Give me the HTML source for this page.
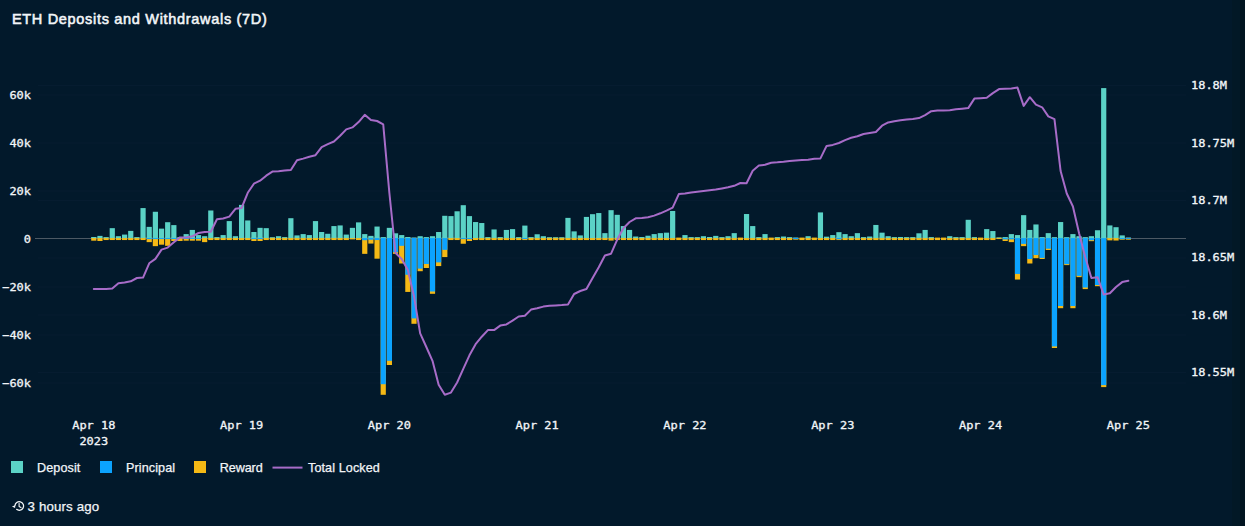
<!DOCTYPE html>
<html><head><meta charset="utf-8"><title>ETH Deposits and Withdrawals (7D)</title>
<style>
html,body{margin:0;padding:0;background:#02192b;}
.eb{position:absolute;top:0;height:526px}
body{width:1245px;height:526px;position:relative;overflow:hidden;font-family:"Liberation Sans",sans-serif;color:#f2f5f8;}
.title{position:absolute;left:11.9px;top:8.8px;font-size:14.5px;font-weight:normal;-webkit-text-stroke:0.55px #f2f5f8;letter-spacing:0.69px;line-height:20px;white-space:nowrap;}
.lg{position:absolute;top:460px;height:16px;line-height:16px;font-size:12.6px;letter-spacing:0.1px;white-space:nowrap;-webkit-text-stroke:0.25px #f2f5f8}
.sw{position:absolute;top:461.2px;width:12px;height:12px}
.foot{position:absolute;left:27.6px;top:498.6px;font-size:13.3px;letter-spacing:0.13px;line-height:16px;white-space:nowrap;-webkit-text-stroke:0.25px #f2f5f8}
</style></head><body>
<div class="eb" style="left:1232px;width:8px;background:#021826"></div><div class="eb" style="left:1240px;width:5px;background:#011420"></div>
<svg width="1245" height="526" viewBox="0 0 1245 526" style="position:absolute;left:0;top:0">
<g><line x1="38" x2="1186" y1="95" y2="95" stroke="#061c30" stroke-width="1"/>
<line x1="38" x2="1186" y1="143" y2="143" stroke="#061c30" stroke-width="1"/>
<line x1="38" x2="1186" y1="191" y2="191" stroke="#061c30" stroke-width="1"/>
<line x1="38" x2="1186" y1="287" y2="287" stroke="#061c30" stroke-width="1"/>
<line x1="38" x2="1186" y1="335" y2="335" stroke="#061c30" stroke-width="1"/>
<line x1="38" x2="1186" y1="383" y2="383" stroke="#061c30" stroke-width="1"/>
<line x1="38" x2="1186" y1="85.5" y2="85.5" stroke="#061c30" stroke-width="1"/>
<line x1="38" x2="1186" y1="200.5" y2="200.5" stroke="#061c30" stroke-width="1"/>
<line x1="38" x2="1186" y1="258" y2="258" stroke="#061c30" stroke-width="1"/>
<line x1="38" x2="1186" y1="315" y2="315" stroke="#061c30" stroke-width="1"/>
<line x1="38" x2="1186" y1="372.5" y2="372.5" stroke="#061c30" stroke-width="1"/></g>
<line x1="35" x2="1186" y1="238.5" y2="238.5" stroke="#4d5964" stroke-width="1"/>
<g shape-rendering="auto"><rect x="91.2" y="237.6" width="5.2" height="3.09" fill="#f5b915"/>
<rect x="91.2" y="236.99" width="5.2" height="1.11" fill="#5bd2c6"/>
<rect x="97.36" y="237.6" width="5.2" height="3.41" fill="#f5b915"/>
<rect x="97.36" y="235.87" width="5.2" height="2.23" fill="#5bd2c6"/>
<rect x="103.52" y="237.6" width="5.2" height="2.45" fill="#f5b915"/>
<rect x="103.52" y="237.15" width="5.2" height="0.95" fill="#5bd2c6"/>
<rect x="109.67" y="237.6" width="5.2" height="2.45" fill="#f5b915"/>
<rect x="109.67" y="228.16" width="5.2" height="9.94" fill="#5bd2c6"/>
<rect x="115.83" y="237.6" width="5.2" height="2.45" fill="#f5b915"/>
<rect x="115.83" y="236.19" width="5.2" height="1.91" fill="#5bd2c6"/>
<rect x="121.99" y="237.6" width="5.2" height="2.45" fill="#f5b915"/>
<rect x="121.99" y="234.58" width="5.2" height="3.52" fill="#5bd2c6"/>
<rect x="128.15" y="237.6" width="5.2" height="2.45" fill="#f5b915"/>
<rect x="128.15" y="230.89" width="5.2" height="7.21" fill="#5bd2c6"/>
<rect x="134.31" y="237.6" width="5.2" height="2.45" fill="#f5b915"/>
<rect x="134.31" y="237.15" width="5.2" height="0.95" fill="#5bd2c6"/>
<rect x="140.46" y="237.6" width="5.2" height="2.45" fill="#f5b915"/>
<rect x="140.46" y="208.08" width="5.2" height="30.02" fill="#5bd2c6"/>
<rect x="146.62" y="237.6" width="5.2" height="4.53" fill="#f5b915"/>
<rect x="146.62" y="237.6" width="5.2" height="1.48" fill="#0ba3ff"/>
<rect x="146.62" y="226.87" width="5.2" height="11.23" fill="#5bd2c6"/>
<rect x="152.78" y="237.6" width="5.2" height="8.55" fill="#f5b915"/>
<rect x="152.78" y="237.6" width="5.2" height="1.48" fill="#0ba3ff"/>
<rect x="152.78" y="211.77" width="5.2" height="26.33" fill="#5bd2c6"/>
<rect x="158.94" y="237.6" width="5.2" height="7.1" fill="#f5b915"/>
<rect x="158.94" y="237.6" width="5.2" height="1.48" fill="#0ba3ff"/>
<rect x="158.94" y="228.64" width="5.2" height="9.46" fill="#5bd2c6"/>
<rect x="165.1" y="237.6" width="5.2" height="8.23" fill="#f5b915"/>
<rect x="165.1" y="237.6" width="5.2" height="1.48" fill="#0ba3ff"/>
<rect x="165.1" y="222.21" width="5.2" height="15.89" fill="#5bd2c6"/>
<rect x="171.25" y="237.6" width="5.2" height="3.41" fill="#f5b915"/>
<rect x="171.25" y="237.6" width="5.2" height="1.48" fill="#0ba3ff"/>
<rect x="171.25" y="225.11" width="5.2" height="12.99" fill="#5bd2c6"/>
<rect x="177.41" y="237.6" width="5.2" height="3.41" fill="#f5b915"/>
<rect x="177.41" y="236.99" width="5.2" height="1.11" fill="#5bd2c6"/>
<rect x="183.57" y="237.6" width="5.2" height="3.09" fill="#f5b915"/>
<rect x="183.57" y="237.6" width="5.2" height="1.32" fill="#0ba3ff"/>
<rect x="183.57" y="234.1" width="5.2" height="4" fill="#5bd2c6"/>
<rect x="189.73" y="237.6" width="5.2" height="3.09" fill="#f5b915"/>
<rect x="189.73" y="237.6" width="5.2" height="1.32" fill="#0ba3ff"/>
<rect x="189.73" y="229.93" width="5.2" height="8.17" fill="#5bd2c6"/>
<rect x="195.89" y="237.6" width="5.2" height="3.09" fill="#f5b915"/>
<rect x="195.89" y="237.6" width="5.2" height="1.32" fill="#0ba3ff"/>
<rect x="195.89" y="235.07" width="5.2" height="3.03" fill="#5bd2c6"/>
<rect x="202.04" y="237.6" width="5.2" height="4.53" fill="#f5b915"/>
<rect x="202.04" y="236.19" width="5.2" height="1.91" fill="#5bd2c6"/>
<rect x="208.2" y="237.6" width="5.2" height="2.45" fill="#f5b915"/>
<rect x="208.2" y="210.49" width="5.2" height="27.61" fill="#5bd2c6"/>
<rect x="214.36" y="237.6" width="5.2" height="2.45" fill="#f5b915"/>
<rect x="214.36" y="237.15" width="5.2" height="0.95" fill="#5bd2c6"/>
<rect x="220.52" y="237.6" width="5.2" height="2.45" fill="#f5b915"/>
<rect x="220.52" y="235.07" width="5.2" height="3.03" fill="#5bd2c6"/>
<rect x="226.68" y="237.6" width="5.2" height="2.45" fill="#f5b915"/>
<rect x="226.68" y="221.09" width="5.2" height="17.01" fill="#5bd2c6"/>
<rect x="232.83" y="237.6" width="5.2" height="2.45" fill="#f5b915"/>
<rect x="232.83" y="236.19" width="5.2" height="1.91" fill="#5bd2c6"/>
<rect x="238.99" y="237.6" width="5.2" height="2.45" fill="#f5b915"/>
<rect x="238.99" y="204.87" width="5.2" height="33.23" fill="#5bd2c6"/>
<rect x="245.15" y="237.6" width="5.2" height="2.45" fill="#f5b915"/>
<rect x="245.15" y="220.45" width="5.2" height="17.65" fill="#5bd2c6"/>
<rect x="251.31" y="237.6" width="5.2" height="3.41" fill="#f5b915"/>
<rect x="251.31" y="237.6" width="5.2" height="1.48" fill="#0ba3ff"/>
<rect x="251.31" y="232.01" width="5.2" height="6.09" fill="#5bd2c6"/>
<rect x="257.47" y="237.6" width="5.2" height="3.41" fill="#f5b915"/>
<rect x="257.47" y="237.6" width="5.2" height="1.48" fill="#0ba3ff"/>
<rect x="257.47" y="227.84" width="5.2" height="10.26" fill="#5bd2c6"/>
<rect x="263.62" y="237.6" width="5.2" height="2.45" fill="#f5b915"/>
<rect x="263.62" y="228.16" width="5.2" height="9.94" fill="#5bd2c6"/>
<rect x="269.78" y="237.6" width="5.2" height="2.45" fill="#f5b915"/>
<rect x="269.78" y="237.31" width="5.2" height="0.79" fill="#5bd2c6"/>
<rect x="275.94" y="237.6" width="5.2" height="2.45" fill="#f5b915"/>
<rect x="275.94" y="236.19" width="5.2" height="1.91" fill="#5bd2c6"/>
<rect x="282.1" y="237.6" width="5.2" height="2.45" fill="#f5b915"/>
<rect x="282.1" y="237.15" width="5.2" height="0.95" fill="#5bd2c6"/>
<rect x="288.26" y="237.6" width="5.2" height="2.45" fill="#f5b915"/>
<rect x="288.26" y="218.2" width="5.2" height="19.9" fill="#5bd2c6"/>
<rect x="294.41" y="237.6" width="5.2" height="2.45" fill="#f5b915"/>
<rect x="294.41" y="235.39" width="5.2" height="2.71" fill="#5bd2c6"/>
<rect x="300.57" y="237.6" width="5.2" height="2.45" fill="#f5b915"/>
<rect x="300.57" y="234.1" width="5.2" height="4" fill="#5bd2c6"/>
<rect x="306.73" y="237.6" width="5.2" height="2.45" fill="#f5b915"/>
<rect x="306.73" y="235.07" width="5.2" height="3.03" fill="#5bd2c6"/>
<rect x="312.89" y="237.6" width="5.2" height="2.45" fill="#f5b915"/>
<rect x="312.89" y="221.09" width="5.2" height="17.01" fill="#5bd2c6"/>
<rect x="319.05" y="237.6" width="5.2" height="2.45" fill="#f5b915"/>
<rect x="319.05" y="232.01" width="5.2" height="6.09" fill="#5bd2c6"/>
<rect x="325.2" y="237.6" width="5.2" height="2.45" fill="#f5b915"/>
<rect x="325.2" y="233.78" width="5.2" height="4.32" fill="#5bd2c6"/>
<rect x="331.36" y="237.6" width="5.2" height="2.45" fill="#f5b915"/>
<rect x="331.36" y="226.07" width="5.2" height="12.03" fill="#5bd2c6"/>
<rect x="337.52" y="237.6" width="5.2" height="2.45" fill="#f5b915"/>
<rect x="337.52" y="225.43" width="5.2" height="12.67" fill="#5bd2c6"/>
<rect x="343.68" y="237.6" width="5.2" height="2.45" fill="#f5b915"/>
<rect x="343.68" y="234.58" width="5.2" height="3.52" fill="#5bd2c6"/>
<rect x="349.84" y="237.6" width="5.2" height="1.8" fill="#f5b915"/>
<rect x="349.84" y="227.84" width="5.2" height="10.26" fill="#5bd2c6"/>
<rect x="355.99" y="237.6" width="5.2" height="2.45" fill="#f5b915"/>
<rect x="355.99" y="222.38" width="5.2" height="15.72" fill="#5bd2c6"/>
<rect x="362.15" y="237.6" width="5.2" height="16.26" fill="#f5b915"/>
<rect x="362.15" y="237.6" width="5.2" height="2.61" fill="#0ba3ff"/>
<rect x="362.15" y="234.1" width="5.2" height="4" fill="#5bd2c6"/>
<rect x="368.31" y="237.6" width="5.2" height="5.98" fill="#f5b915"/>
<rect x="368.31" y="237.6" width="5.2" height="2.12" fill="#0ba3ff"/>
<rect x="368.31" y="235.87" width="5.2" height="2.23" fill="#5bd2c6"/>
<rect x="374.47" y="237.6" width="5.2" height="21.08" fill="#f5b915"/>
<rect x="374.47" y="237.6" width="5.2" height="2.45" fill="#0ba3ff"/>
<rect x="374.47" y="226.55" width="5.2" height="11.55" fill="#5bd2c6"/>
<rect x="380.63" y="237.6" width="5.2" height="157.2" fill="#f5b915"/>
<rect x="380.63" y="237.6" width="5.2" height="146.6" fill="#0ba3ff"/>
<rect x="380.63" y="237.15" width="5.2" height="0.95" fill="#5bd2c6"/>
<rect x="386.78" y="237.6" width="5.2" height="127.4" fill="#f5b915"/>
<rect x="386.78" y="237.6" width="5.2" height="123.2" fill="#0ba3ff"/>
<rect x="386.78" y="227.84" width="5.2" height="10.26" fill="#5bd2c6"/>
<rect x="392.94" y="237.6" width="5.2" height="16.26" fill="#f5b915"/>
<rect x="392.94" y="237.6" width="5.2" height="14.65" fill="#0ba3ff"/>
<rect x="392.94" y="233.3" width="5.2" height="4.8" fill="#5bd2c6"/>
<rect x="399.1" y="237.6" width="5.2" height="25.9" fill="#f5b915"/>
<rect x="399.1" y="237.6" width="5.2" height="8.23" fill="#0ba3ff"/>
<rect x="399.1" y="235.07" width="5.2" height="3.03" fill="#5bd2c6"/>
<rect x="405.26" y="237.6" width="5.2" height="54.33" fill="#f5b915"/>
<rect x="405.26" y="237.6" width="5.2" height="37.14" fill="#0ba3ff"/>
<rect x="405.26" y="236.99" width="5.2" height="1.11" fill="#5bd2c6"/>
<rect x="411.42" y="237.6" width="5.2" height="86.2" fill="#f5b915"/>
<rect x="411.42" y="237.6" width="5.2" height="80.8" fill="#0ba3ff"/>
<rect x="417.57" y="237.6" width="5.2" height="33.61" fill="#f5b915"/>
<rect x="417.57" y="237.6" width="5.2" height="31.04" fill="#0ba3ff"/>
<rect x="417.57" y="236.19" width="5.2" height="1.91" fill="#5bd2c6"/>
<rect x="423.73" y="237.6" width="5.2" height="30.4" fill="#f5b915"/>
<rect x="423.73" y="237.6" width="5.2" height="26.38" fill="#0ba3ff"/>
<rect x="423.73" y="237.15" width="5.2" height="0.95" fill="#5bd2c6"/>
<rect x="429.89" y="237.6" width="5.2" height="56.2" fill="#f5b915"/>
<rect x="429.89" y="237.6" width="5.2" height="53.9" fill="#0ba3ff"/>
<rect x="429.89" y="236.19" width="5.2" height="1.91" fill="#5bd2c6"/>
<rect x="436.05" y="237.6" width="5.2" height="28.47" fill="#f5b915"/>
<rect x="436.05" y="237.6" width="5.2" height="24.78" fill="#0ba3ff"/>
<rect x="436.05" y="232.01" width="5.2" height="6.09" fill="#5bd2c6"/>
<rect x="442.21" y="237.6" width="5.2" height="19.47" fill="#f5b915"/>
<rect x="442.21" y="237.6" width="5.2" height="12.24" fill="#0ba3ff"/>
<rect x="442.21" y="215.79" width="5.2" height="22.31" fill="#5bd2c6"/>
<rect x="448.36" y="237.6" width="5.2" height="2.45" fill="#f5b915"/>
<rect x="448.36" y="216.11" width="5.2" height="21.99" fill="#5bd2c6"/>
<rect x="454.52" y="237.6" width="5.2" height="2.45" fill="#f5b915"/>
<rect x="454.52" y="211.29" width="5.2" height="26.81" fill="#5bd2c6"/>
<rect x="460.68" y="237.6" width="5.2" height="6.14" fill="#f5b915"/>
<rect x="460.68" y="237.6" width="5.2" height="1.48" fill="#0ba3ff"/>
<rect x="460.68" y="205.19" width="5.2" height="32.91" fill="#5bd2c6"/>
<rect x="466.84" y="237.6" width="5.2" height="3.41" fill="#f5b915"/>
<rect x="466.84" y="237.6" width="5.2" height="1.48" fill="#0ba3ff"/>
<rect x="466.84" y="216.11" width="5.2" height="21.99" fill="#5bd2c6"/>
<rect x="473" y="237.6" width="5.2" height="2.45" fill="#f5b915"/>
<rect x="473" y="222.05" width="5.2" height="16.05" fill="#5bd2c6"/>
<rect x="479.15" y="237.6" width="5.2" height="2.45" fill="#f5b915"/>
<rect x="479.15" y="223.02" width="5.2" height="15.08" fill="#5bd2c6"/>
<rect x="485.31" y="237.6" width="5.2" height="2.45" fill="#f5b915"/>
<rect x="485.31" y="237.15" width="5.2" height="0.95" fill="#5bd2c6"/>
<rect x="491.47" y="237.6" width="5.2" height="2.45" fill="#f5b915"/>
<rect x="491.47" y="229.44" width="5.2" height="8.66" fill="#5bd2c6"/>
<rect x="497.63" y="237.6" width="5.2" height="2.45" fill="#f5b915"/>
<rect x="497.63" y="237.15" width="5.2" height="0.95" fill="#5bd2c6"/>
<rect x="503.79" y="237.6" width="5.2" height="2.45" fill="#f5b915"/>
<rect x="503.79" y="229.93" width="5.2" height="8.17" fill="#5bd2c6"/>
<rect x="509.94" y="237.6" width="5.2" height="2.45" fill="#f5b915"/>
<rect x="509.94" y="229.12" width="5.2" height="8.98" fill="#5bd2c6"/>
<rect x="516.1" y="237.6" width="5.2" height="2.45" fill="#f5b915"/>
<rect x="516.1" y="237.15" width="5.2" height="0.95" fill="#5bd2c6"/>
<rect x="522.26" y="237.6" width="5.2" height="2.45" fill="#f5b915"/>
<rect x="522.26" y="237.6" width="5.2" height="1.48" fill="#0ba3ff"/>
<rect x="522.26" y="225.59" width="5.2" height="12.51" fill="#5bd2c6"/>
<rect x="528.42" y="237.6" width="5.2" height="2.45" fill="#f5b915"/>
<rect x="528.42" y="237.15" width="5.2" height="0.95" fill="#5bd2c6"/>
<rect x="534.58" y="237.6" width="5.2" height="2.45" fill="#f5b915"/>
<rect x="534.58" y="234.26" width="5.2" height="3.84" fill="#5bd2c6"/>
<rect x="540.73" y="237.6" width="5.2" height="2.45" fill="#f5b915"/>
<rect x="540.73" y="236.19" width="5.2" height="1.91" fill="#5bd2c6"/>
<rect x="546.89" y="237.6" width="5.2" height="2.45" fill="#f5b915"/>
<rect x="546.89" y="237.31" width="5.2" height="0.79" fill="#5bd2c6"/>
<rect x="553.05" y="237.6" width="5.2" height="2.45" fill="#f5b915"/>
<rect x="553.05" y="237.31" width="5.2" height="0.79" fill="#5bd2c6"/>
<rect x="559.21" y="237.6" width="5.2" height="2.45" fill="#f5b915"/>
<rect x="559.21" y="237.31" width="5.2" height="0.79" fill="#5bd2c6"/>
<rect x="565.37" y="237.6" width="5.2" height="2.45" fill="#f5b915"/>
<rect x="565.37" y="217.88" width="5.2" height="20.22" fill="#5bd2c6"/>
<rect x="571.52" y="237.6" width="5.2" height="2.45" fill="#f5b915"/>
<rect x="571.52" y="231.37" width="5.2" height="6.73" fill="#5bd2c6"/>
<rect x="577.68" y="237.6" width="5.2" height="2.45" fill="#f5b915"/>
<rect x="577.68" y="235.39" width="5.2" height="2.71" fill="#5bd2c6"/>
<rect x="583.84" y="237.6" width="5.2" height="2.45" fill="#f5b915"/>
<rect x="583.84" y="216.91" width="5.2" height="21.19" fill="#5bd2c6"/>
<rect x="590" y="237.6" width="5.2" height="2.45" fill="#f5b915"/>
<rect x="590" y="214.18" width="5.2" height="23.92" fill="#5bd2c6"/>
<rect x="596.16" y="237.6" width="5.2" height="2.45" fill="#f5b915"/>
<rect x="596.16" y="213.06" width="5.2" height="25.04" fill="#5bd2c6"/>
<rect x="602.31" y="237.6" width="5.2" height="2.45" fill="#f5b915"/>
<rect x="602.31" y="233.14" width="5.2" height="4.96" fill="#5bd2c6"/>
<rect x="608.47" y="237.6" width="5.2" height="2.93" fill="#f5b915"/>
<rect x="608.47" y="210.17" width="5.2" height="27.93" fill="#5bd2c6"/>
<rect x="614.63" y="237.6" width="5.2" height="2.45" fill="#f5b915"/>
<rect x="614.63" y="214.82" width="5.2" height="23.28" fill="#5bd2c6"/>
<rect x="620.79" y="237.6" width="5.2" height="2.45" fill="#f5b915"/>
<rect x="620.79" y="226.07" width="5.2" height="12.03" fill="#5bd2c6"/>
<rect x="626.95" y="237.6" width="5.2" height="2.45" fill="#f5b915"/>
<rect x="626.95" y="229.93" width="5.2" height="8.17" fill="#5bd2c6"/>
<rect x="633.1" y="237.6" width="5.2" height="2.45" fill="#f5b915"/>
<rect x="633.1" y="236.51" width="5.2" height="1.59" fill="#5bd2c6"/>
<rect x="639.26" y="237.6" width="5.2" height="2.45" fill="#f5b915"/>
<rect x="639.26" y="236.99" width="5.2" height="1.11" fill="#5bd2c6"/>
<rect x="645.42" y="237.6" width="5.2" height="2.45" fill="#f5b915"/>
<rect x="645.42" y="235.71" width="5.2" height="2.39" fill="#5bd2c6"/>
<rect x="651.58" y="237.6" width="5.2" height="2.45" fill="#f5b915"/>
<rect x="651.58" y="234.1" width="5.2" height="4" fill="#5bd2c6"/>
<rect x="657.74" y="237.6" width="5.2" height="2.45" fill="#f5b915"/>
<rect x="657.74" y="233.14" width="5.2" height="4.96" fill="#5bd2c6"/>
<rect x="663.89" y="237.6" width="5.2" height="2.45" fill="#f5b915"/>
<rect x="663.89" y="232.66" width="5.2" height="5.44" fill="#5bd2c6"/>
<rect x="670.05" y="237.6" width="5.2" height="2.45" fill="#f5b915"/>
<rect x="670.05" y="210.97" width="5.2" height="27.13" fill="#5bd2c6"/>
<rect x="676.21" y="237.6" width="5.2" height="2.45" fill="#f5b915"/>
<rect x="682.37" y="237.6" width="5.2" height="2.45" fill="#f5b915"/>
<rect x="682.37" y="235.07" width="5.2" height="3.03" fill="#5bd2c6"/>
<rect x="688.53" y="237.6" width="5.2" height="2.45" fill="#f5b915"/>
<rect x="688.53" y="237.15" width="5.2" height="0.95" fill="#5bd2c6"/>
<rect x="694.68" y="237.6" width="5.2" height="2.45" fill="#f5b915"/>
<rect x="694.68" y="237.15" width="5.2" height="0.95" fill="#5bd2c6"/>
<rect x="700.84" y="237.6" width="5.2" height="2.45" fill="#f5b915"/>
<rect x="700.84" y="236.19" width="5.2" height="1.91" fill="#5bd2c6"/>
<rect x="707" y="237.6" width="5.2" height="2.45" fill="#f5b915"/>
<rect x="707" y="236.99" width="5.2" height="1.11" fill="#5bd2c6"/>
<rect x="713.16" y="237.6" width="5.2" height="2.45" fill="#f5b915"/>
<rect x="713.16" y="235.87" width="5.2" height="2.23" fill="#5bd2c6"/>
<rect x="719.32" y="237.6" width="5.2" height="2.45" fill="#f5b915"/>
<rect x="719.32" y="237.15" width="5.2" height="0.95" fill="#5bd2c6"/>
<rect x="725.47" y="237.6" width="5.2" height="2.45" fill="#f5b915"/>
<rect x="725.47" y="236.19" width="5.2" height="1.91" fill="#5bd2c6"/>
<rect x="731.63" y="237.6" width="5.2" height="2.45" fill="#f5b915"/>
<rect x="731.63" y="233.14" width="5.2" height="4.96" fill="#5bd2c6"/>
<rect x="737.79" y="237.6" width="5.2" height="2.45" fill="#f5b915"/>
<rect x="743.95" y="237.6" width="5.2" height="2.45" fill="#f5b915"/>
<rect x="743.95" y="214.02" width="5.2" height="24.08" fill="#5bd2c6"/>
<rect x="750.11" y="237.6" width="5.2" height="2.45" fill="#f5b915"/>
<rect x="750.11" y="226.07" width="5.2" height="12.03" fill="#5bd2c6"/>
<rect x="756.26" y="237.6" width="5.2" height="2.45" fill="#f5b915"/>
<rect x="756.26" y="237.15" width="5.2" height="0.95" fill="#5bd2c6"/>
<rect x="762.42" y="237.6" width="5.2" height="2.45" fill="#f5b915"/>
<rect x="762.42" y="234.1" width="5.2" height="4" fill="#5bd2c6"/>
<rect x="768.58" y="237.6" width="5.2" height="2.45" fill="#f5b915"/>
<rect x="774.74" y="237.6" width="5.2" height="2.45" fill="#f5b915"/>
<rect x="774.74" y="237.15" width="5.2" height="0.95" fill="#5bd2c6"/>
<rect x="780.9" y="237.6" width="5.2" height="2.45" fill="#f5b915"/>
<rect x="780.9" y="236.51" width="5.2" height="1.59" fill="#5bd2c6"/>
<rect x="787.05" y="237.6" width="5.2" height="2.45" fill="#f5b915"/>
<rect x="787.05" y="237.15" width="5.2" height="0.95" fill="#5bd2c6"/>
<rect x="793.21" y="237.6" width="5.2" height="2.12" fill="#f5b915"/>
<rect x="793.21" y="237.6" width="5.2" height="1.48" fill="#0ba3ff"/>
<rect x="799.37" y="237.6" width="5.2" height="2.45" fill="#f5b915"/>
<rect x="805.53" y="237.6" width="5.2" height="2.45" fill="#f5b915"/>
<rect x="805.53" y="236.19" width="5.2" height="1.91" fill="#5bd2c6"/>
<rect x="811.69" y="237.6" width="5.2" height="2.45" fill="#f5b915"/>
<rect x="817.84" y="237.6" width="5.2" height="2.45" fill="#f5b915"/>
<rect x="817.84" y="212.42" width="5.2" height="25.68" fill="#5bd2c6"/>
<rect x="824" y="237.6" width="5.2" height="2.45" fill="#f5b915"/>
<rect x="824" y="236.67" width="5.2" height="1.43" fill="#5bd2c6"/>
<rect x="830.16" y="237.6" width="5.2" height="2.45" fill="#f5b915"/>
<rect x="830.16" y="235.07" width="5.2" height="3.03" fill="#5bd2c6"/>
<rect x="836.32" y="237.6" width="5.2" height="2.45" fill="#f5b915"/>
<rect x="836.32" y="237.6" width="5.2" height="1.64" fill="#0ba3ff"/>
<rect x="836.32" y="232.17" width="5.2" height="5.93" fill="#5bd2c6"/>
<rect x="842.48" y="237.6" width="5.2" height="2.45" fill="#f5b915"/>
<rect x="842.48" y="234.1" width="5.2" height="4" fill="#5bd2c6"/>
<rect x="848.63" y="237.6" width="5.2" height="2.45" fill="#f5b915"/>
<rect x="848.63" y="236.19" width="5.2" height="1.91" fill="#5bd2c6"/>
<rect x="854.79" y="237.6" width="5.2" height="2.45" fill="#f5b915"/>
<rect x="854.79" y="233.14" width="5.2" height="4.96" fill="#5bd2c6"/>
<rect x="860.95" y="237.6" width="5.2" height="2.45" fill="#f5b915"/>
<rect x="860.95" y="237.15" width="5.2" height="0.95" fill="#5bd2c6"/>
<rect x="867.11" y="237.6" width="5.2" height="2.45" fill="#f5b915"/>
<rect x="867.11" y="236.51" width="5.2" height="1.59" fill="#5bd2c6"/>
<rect x="873.27" y="237.6" width="5.2" height="2.45" fill="#f5b915"/>
<rect x="873.27" y="224.95" width="5.2" height="13.15" fill="#5bd2c6"/>
<rect x="879.42" y="237.6" width="5.2" height="2.45" fill="#f5b915"/>
<rect x="879.42" y="232.66" width="5.2" height="5.44" fill="#5bd2c6"/>
<rect x="885.58" y="237.6" width="5.2" height="2.45" fill="#f5b915"/>
<rect x="885.58" y="236.19" width="5.2" height="1.91" fill="#5bd2c6"/>
<rect x="891.74" y="237.6" width="5.2" height="2.45" fill="#f5b915"/>
<rect x="891.74" y="237.15" width="5.2" height="0.95" fill="#5bd2c6"/>
<rect x="897.9" y="237.6" width="5.2" height="2.45" fill="#f5b915"/>
<rect x="897.9" y="236.99" width="5.2" height="1.11" fill="#5bd2c6"/>
<rect x="904.06" y="237.6" width="5.2" height="2.45" fill="#f5b915"/>
<rect x="904.06" y="237.15" width="5.2" height="0.95" fill="#5bd2c6"/>
<rect x="910.21" y="237.6" width="5.2" height="2.45" fill="#f5b915"/>
<rect x="910.21" y="237.15" width="5.2" height="0.95" fill="#5bd2c6"/>
<rect x="916.37" y="237.6" width="5.2" height="2.45" fill="#f5b915"/>
<rect x="916.37" y="233.3" width="5.2" height="4.8" fill="#5bd2c6"/>
<rect x="922.53" y="237.6" width="5.2" height="2.45" fill="#f5b915"/>
<rect x="922.53" y="229.93" width="5.2" height="8.17" fill="#5bd2c6"/>
<rect x="928.69" y="237.6" width="5.2" height="2.45" fill="#f5b915"/>
<rect x="928.69" y="237.15" width="5.2" height="0.95" fill="#5bd2c6"/>
<rect x="934.85" y="237.6" width="5.2" height="2.45" fill="#f5b915"/>
<rect x="941" y="237.6" width="5.2" height="2.45" fill="#f5b915"/>
<rect x="947.16" y="237.6" width="5.2" height="2.45" fill="#f5b915"/>
<rect x="947.16" y="236.19" width="5.2" height="1.91" fill="#5bd2c6"/>
<rect x="953.32" y="237.6" width="5.2" height="2.45" fill="#f5b915"/>
<rect x="953.32" y="237.15" width="5.2" height="0.95" fill="#5bd2c6"/>
<rect x="959.48" y="237.6" width="5.2" height="2.45" fill="#f5b915"/>
<rect x="959.48" y="237.15" width="5.2" height="0.95" fill="#5bd2c6"/>
<rect x="965.64" y="237.6" width="5.2" height="2.45" fill="#f5b915"/>
<rect x="965.64" y="219.8" width="5.2" height="18.3" fill="#5bd2c6"/>
<rect x="971.79" y="237.6" width="5.2" height="2.45" fill="#f5b915"/>
<rect x="971.79" y="237.15" width="5.2" height="0.95" fill="#5bd2c6"/>
<rect x="977.95" y="237.6" width="5.2" height="2.45" fill="#f5b915"/>
<rect x="984.11" y="237.6" width="5.2" height="2.45" fill="#f5b915"/>
<rect x="984.11" y="229.12" width="5.2" height="8.98" fill="#5bd2c6"/>
<rect x="990.27" y="237.6" width="5.2" height="2.45" fill="#f5b915"/>
<rect x="990.27" y="231.05" width="5.2" height="7.05" fill="#5bd2c6"/>
<rect x="996.43" y="237.6" width="5.2" height="1.48" fill="#f5b915"/>
<rect x="996.43" y="237.48" width="5.2" height="0.62" fill="#5bd2c6"/>
<rect x="1002.58" y="237.6" width="5.2" height="3.41" fill="#f5b915"/>
<rect x="1002.58" y="237.6" width="5.2" height="1.8" fill="#0ba3ff"/>
<rect x="1002.58" y="237.15" width="5.2" height="0.95" fill="#5bd2c6"/>
<rect x="1008.74" y="237.6" width="5.2" height="4.53" fill="#f5b915"/>
<rect x="1008.74" y="237.6" width="5.2" height="1.8" fill="#0ba3ff"/>
<rect x="1008.74" y="234.1" width="5.2" height="4" fill="#5bd2c6"/>
<rect x="1014.9" y="237.6" width="5.2" height="41.96" fill="#f5b915"/>
<rect x="1014.9" y="237.6" width="5.2" height="36.34" fill="#0ba3ff"/>
<rect x="1014.9" y="235.07" width="5.2" height="3.03" fill="#5bd2c6"/>
<rect x="1021.06" y="237.6" width="5.2" height="8.55" fill="#f5b915"/>
<rect x="1021.06" y="237.6" width="5.2" height="6.3" fill="#0ba3ff"/>
<rect x="1021.06" y="215.15" width="5.2" height="22.95" fill="#5bd2c6"/>
<rect x="1027.22" y="237.6" width="5.2" height="25.9" fill="#f5b915"/>
<rect x="1027.22" y="237.6" width="5.2" height="21.4" fill="#0ba3ff"/>
<rect x="1027.22" y="229.93" width="5.2" height="8.17" fill="#5bd2c6"/>
<rect x="1033.37" y="237.6" width="5.2" height="20.6" fill="#f5b915"/>
<rect x="1033.37" y="237.6" width="5.2" height="17.39" fill="#0ba3ff"/>
<rect x="1033.37" y="224.46" width="5.2" height="13.64" fill="#5bd2c6"/>
<rect x="1039.53" y="237.6" width="5.2" height="21.4" fill="#f5b915"/>
<rect x="1039.53" y="237.6" width="5.2" height="20.28" fill="#0ba3ff"/>
<rect x="1039.53" y="237.15" width="5.2" height="0.95" fill="#5bd2c6"/>
<rect x="1045.69" y="237.6" width="5.2" height="12.41" fill="#f5b915"/>
<rect x="1045.69" y="237.6" width="5.2" height="11.12" fill="#0ba3ff"/>
<rect x="1045.69" y="233.14" width="5.2" height="4.96" fill="#5bd2c6"/>
<rect x="1051.85" y="237.6" width="5.2" height="110.4" fill="#f5b915"/>
<rect x="1051.85" y="237.6" width="5.2" height="108.8" fill="#0ba3ff"/>
<rect x="1051.85" y="237.31" width="5.2" height="0.79" fill="#5bd2c6"/>
<rect x="1058.01" y="237.6" width="5.2" height="70.6" fill="#f5b915"/>
<rect x="1058.01" y="237.6" width="5.2" height="68.4" fill="#0ba3ff"/>
<rect x="1058.01" y="222.05" width="5.2" height="16.05" fill="#5bd2c6"/>
<rect x="1064.16" y="237.6" width="5.2" height="27.51" fill="#f5b915"/>
<rect x="1064.16" y="237.6" width="5.2" height="26.54" fill="#0ba3ff"/>
<rect x="1064.16" y="237.31" width="5.2" height="0.79" fill="#5bd2c6"/>
<rect x="1070.32" y="237.6" width="5.2" height="70.6" fill="#f5b915"/>
<rect x="1070.32" y="237.6" width="5.2" height="68.4" fill="#0ba3ff"/>
<rect x="1070.32" y="234.1" width="5.2" height="4" fill="#5bd2c6"/>
<rect x="1076.48" y="237.6" width="5.2" height="39.55" fill="#f5b915"/>
<rect x="1076.48" y="237.6" width="5.2" height="38.27" fill="#0ba3ff"/>
<rect x="1076.48" y="236.19" width="5.2" height="1.91" fill="#5bd2c6"/>
<rect x="1082.64" y="237.6" width="5.2" height="51.5" fill="#f5b915"/>
<rect x="1082.64" y="237.6" width="5.2" height="49.9" fill="#0ba3ff"/>
<rect x="1082.64" y="237.31" width="5.2" height="0.79" fill="#5bd2c6"/>
<rect x="1088.8" y="237.6" width="5.2" height="3.57" fill="#f5b915"/>
<rect x="1088.8" y="237.6" width="5.2" height="2.61" fill="#0ba3ff"/>
<rect x="1088.8" y="236.19" width="5.2" height="1.91" fill="#5bd2c6"/>
<rect x="1094.95" y="237.6" width="5.2" height="48.6" fill="#f5b915"/>
<rect x="1094.95" y="237.6" width="5.2" height="47.4" fill="#0ba3ff"/>
<rect x="1094.95" y="230.25" width="5.2" height="7.85" fill="#5bd2c6"/>
<rect x="1101.11" y="237.6" width="5.2" height="149.5" fill="#f5b915"/>
<rect x="1101.11" y="237.6" width="5.2" height="147.5" fill="#0ba3ff"/>
<rect x="1101.11" y="88.1" width="5.2" height="150" fill="#5bd2c6"/>
<rect x="1107.27" y="237.6" width="5.2" height="2.77" fill="#f5b915"/>
<rect x="1107.27" y="225.43" width="5.2" height="12.67" fill="#5bd2c6"/>
<rect x="1113.43" y="237.6" width="5.2" height="2.93" fill="#f5b915"/>
<rect x="1113.43" y="227.19" width="5.2" height="10.91" fill="#5bd2c6"/>
<rect x="1119.59" y="237.6" width="5.2" height="2.12" fill="#f5b915"/>
<rect x="1119.59" y="237.6" width="5.2" height="1.48" fill="#0ba3ff"/>
<rect x="1119.59" y="235.39" width="5.2" height="2.71" fill="#5bd2c6"/>
<rect x="1125.74" y="237.6" width="5.2" height="2.12" fill="#f5b915"/>
<rect x="1125.74" y="237.6" width="5.2" height="1.32" fill="#0ba3ff"/></g>
<polyline points="93.8,289 99.96,289 106.12,289 112.27,288.6 118.43,283.2 124.59,282.5 130.75,281.3 136.91,278 143.06,277.6 149.22,263.3 155.38,258.9 161.54,249.6 167.7,247.6 173.85,242.3 180.01,237.4 186.17,237.6 192.33,236.3 198.49,233 204.64,231.9 210.8,231.7 216.96,219.3 223.12,218.5 229.28,216.6 235.43,208.8 241.59,208 247.75,192.8 253.91,183.7 260.07,180.7 266.22,175.7 272.38,171.6 278.54,171.2 284.7,170.5 290.86,170 297.01,160.2 303.17,158.6 309.33,156.8 315.49,155.2 321.65,147.2 327.8,144.2 333.96,141.5 340.12,135.8 346.28,129.4 352.44,127.4 358.59,122.1 364.75,114.8 370.91,120.1 377.07,121 383.23,124.4 389.38,193 395.54,253 401.7,259 407.86,270 414.02,296.5 420.17,333.3 426.33,347 432.49,360.8 438.65,384.8 444.81,394.7 450.96,392.6 457.12,382.5 463.28,368.9 469.44,355.3 475.6,344.2 481.75,336.7 487.91,330.1 494.07,330.1 500.23,325.6 506.39,324.4 512.54,320.7 518.7,316.5 524.86,315.7 531.02,309.6 537.18,308.3 543.33,306.6 549.49,305.8 555.65,305.4 561.81,305.1 567.97,304.6 574.12,294 580.28,291 586.44,289 592.6,278 598.76,267.2 604.91,255.5 611.07,253.7 617.23,239.6 623.39,228.2 629.55,222 635.7,218.3 641.86,217.9 648.02,217.2 654.18,215.6 660.34,213.3 666.49,210.6 672.65,207.6 678.81,194.1 684.97,193.6 691.13,192.5 697.28,191.7 703.44,190.9 709.6,190.3 715.76,189.6 721.92,188.5 728.07,187.3 734.23,185.8 740.39,183 746.55,183.3 752.71,170.8 758.86,165.6 765.02,164.8 771.18,162.7 777.34,162.3 783.5,161.7 789.65,160.9 795.81,160.4 801.97,160 808.13,159.8 814.29,158.8 820.44,158.4 826.6,145.9 832.76,144.9 838.92,143 845.08,140.1 851.23,137.8 857.39,136.3 863.55,134 869.71,133 875.87,132 882.02,125.7 888.18,122.4 894.34,121.2 900.5,120.3 906.66,119.5 912.81,118.9 918.97,118.1 925.13,115.1 931.29,111.2 937.45,110.6 943.6,110.4 949.76,110.2 955.92,109.3 962.08,108.7 968.24,108.1 974.39,98.6 980.55,98.2 986.71,97.8 992.87,93.1 999.03,89.1 1005.18,88.8 1011.34,88.5 1017.5,87.6 1023.66,105.9 1029.82,97.2 1035.97,104.7 1042.13,107.3 1048.29,116.4 1054.45,119.2 1060.61,171 1066.76,193.5 1072.92,206.5 1079.08,233.3 1085.24,257 1091.4,278 1097.55,277.2 1103.71,294.6 1109.87,293.3 1116.03,287 1122.19,282.1 1128.34,280.8" fill="none" stroke="#a76cc8" stroke-width="2" stroke-linejoin="round" stroke-linecap="round"/>
<g><text x="31" y="98.7" text-anchor="end" textLength="21.6" lengthAdjust="spacingAndGlyphs" font-family="DejaVu Sans Mono, Liberation Mono, monospace" font-size="11" fill="#f2f5f8" stroke="#f2f5f8" stroke-width="0.3">60k</text>
<text x="31" y="146.7" text-anchor="end" textLength="21.6" lengthAdjust="spacingAndGlyphs" font-family="DejaVu Sans Mono, Liberation Mono, monospace" font-size="11" fill="#f2f5f8" stroke="#f2f5f8" stroke-width="0.3">40k</text>
<text x="31" y="194.7" text-anchor="end" textLength="21.6" lengthAdjust="spacingAndGlyphs" font-family="DejaVu Sans Mono, Liberation Mono, monospace" font-size="11" fill="#f2f5f8" stroke="#f2f5f8" stroke-width="0.3">20k</text>
<text x="31" y="242.7" text-anchor="end" textLength="7.2" lengthAdjust="spacingAndGlyphs" font-family="DejaVu Sans Mono, Liberation Mono, monospace" font-size="11" fill="#f2f5f8" stroke="#f2f5f8" stroke-width="0.3">0</text>
<text x="31" y="290.7" text-anchor="end" textLength="28.8" lengthAdjust="spacingAndGlyphs" font-family="DejaVu Sans Mono, Liberation Mono, monospace" font-size="11" fill="#f2f5f8" stroke="#f2f5f8" stroke-width="0.3">−20k</text>
<text x="31" y="338.7" text-anchor="end" textLength="28.8" lengthAdjust="spacingAndGlyphs" font-family="DejaVu Sans Mono, Liberation Mono, monospace" font-size="11" fill="#f2f5f8" stroke="#f2f5f8" stroke-width="0.3">−40k</text>
<text x="31" y="386.7" text-anchor="end" textLength="28.8" lengthAdjust="spacingAndGlyphs" font-family="DejaVu Sans Mono, Liberation Mono, monospace" font-size="11" fill="#f2f5f8" stroke="#f2f5f8" stroke-width="0.3">−60k</text>
<text x="1191" y="89.10000000000001" textLength="36" lengthAdjust="spacingAndGlyphs" font-family="DejaVu Sans Mono, Liberation Mono, monospace" font-size="11" fill="#f2f5f8" stroke="#f2f5f8" stroke-width="0.3">18.8M</text>
<text x="1191" y="146.5" textLength="43.2" lengthAdjust="spacingAndGlyphs" font-family="DejaVu Sans Mono, Liberation Mono, monospace" font-size="11" fill="#f2f5f8" stroke="#f2f5f8" stroke-width="0.3">18.75M</text>
<text x="1191" y="203.8" textLength="36" lengthAdjust="spacingAndGlyphs" font-family="DejaVu Sans Mono, Liberation Mono, monospace" font-size="11" fill="#f2f5f8" stroke="#f2f5f8" stroke-width="0.3">18.7M</text>
<text x="1191" y="261.2" textLength="43.2" lengthAdjust="spacingAndGlyphs" font-family="DejaVu Sans Mono, Liberation Mono, monospace" font-size="11" fill="#f2f5f8" stroke="#f2f5f8" stroke-width="0.3">18.65M</text>
<text x="1191" y="318.5" textLength="36" lengthAdjust="spacingAndGlyphs" font-family="DejaVu Sans Mono, Liberation Mono, monospace" font-size="11" fill="#f2f5f8" stroke="#f2f5f8" stroke-width="0.3">18.6M</text>
<text x="1191" y="375.9" textLength="43.2" lengthAdjust="spacingAndGlyphs" font-family="DejaVu Sans Mono, Liberation Mono, monospace" font-size="11" fill="#f2f5f8" stroke="#f2f5f8" stroke-width="0.3">18.55M</text>
<text x="93.8" y="429.4" text-anchor="middle" textLength="43.2" lengthAdjust="spacingAndGlyphs" font-family="DejaVu Sans Mono, Liberation Mono, monospace" font-size="11" fill="#f2f5f8" stroke="#f2f5f8" stroke-width="0.3">Apr 18</text>
<text x="241.59" y="429.4" text-anchor="middle" textLength="43.2" lengthAdjust="spacingAndGlyphs" font-family="DejaVu Sans Mono, Liberation Mono, monospace" font-size="11" fill="#f2f5f8" stroke="#f2f5f8" stroke-width="0.3">Apr 19</text>
<text x="389.38" y="429.4" text-anchor="middle" textLength="43.2" lengthAdjust="spacingAndGlyphs" font-family="DejaVu Sans Mono, Liberation Mono, monospace" font-size="11" fill="#f2f5f8" stroke="#f2f5f8" stroke-width="0.3">Apr 20</text>
<text x="537.18" y="429.4" text-anchor="middle" textLength="43.2" lengthAdjust="spacingAndGlyphs" font-family="DejaVu Sans Mono, Liberation Mono, monospace" font-size="11" fill="#f2f5f8" stroke="#f2f5f8" stroke-width="0.3">Apr 21</text>
<text x="684.97" y="429.4" text-anchor="middle" textLength="43.2" lengthAdjust="spacingAndGlyphs" font-family="DejaVu Sans Mono, Liberation Mono, monospace" font-size="11" fill="#f2f5f8" stroke="#f2f5f8" stroke-width="0.3">Apr 22</text>
<text x="832.76" y="429.4" text-anchor="middle" textLength="43.2" lengthAdjust="spacingAndGlyphs" font-family="DejaVu Sans Mono, Liberation Mono, monospace" font-size="11" fill="#f2f5f8" stroke="#f2f5f8" stroke-width="0.3">Apr 23</text>
<text x="980.55" y="429.4" text-anchor="middle" textLength="43.2" lengthAdjust="spacingAndGlyphs" font-family="DejaVu Sans Mono, Liberation Mono, monospace" font-size="11" fill="#f2f5f8" stroke="#f2f5f8" stroke-width="0.3">Apr 24</text>
<text x="1128.34" y="429.4" text-anchor="middle" textLength="43.2" lengthAdjust="spacingAndGlyphs" font-family="DejaVu Sans Mono, Liberation Mono, monospace" font-size="11" fill="#f2f5f8" stroke="#f2f5f8" stroke-width="0.3">Apr 25</text>
<text x="93.8" y="445.3" text-anchor="middle" textLength="28.8" lengthAdjust="spacingAndGlyphs" font-family="DejaVu Sans Mono, Liberation Mono, monospace" font-size="11" fill="#f2f5f8" stroke="#f2f5f8" stroke-width="0.3">2023</text></g>
<line x1="272.5" x2="302.5" y1="467.6" y2="467.6" stroke="#a76cc8" stroke-width="2"/>
<g fill="none" stroke="#f2f5f8" stroke-width="1.25" stroke-linecap="round" stroke-linejoin="round">
<path d="M14.96 505.72 A4.30 4.30 0 1 1 16.60 509.34"/>
<path d="M19.1 503.4 V506.4 L21.0 507.5" stroke-width="1.1"/>
<path d="M11.9 506.5 L15.1 505.2 L15.1 507.9 Z" fill="#f2f5f8" stroke="none"/>
</g>
</svg>
<div class="title">ETH Deposits and Withdrawals (7D)</div>
<div class="sw" style="left:11px;background:#5bd2c6"></div><div class="lg" style="left:37px">Deposit</div>
<div class="sw" style="left:100px;background:#0ba3ff"></div><div class="lg" style="left:126px">Principal</div>
<div class="sw" style="left:193.5px;background:#f5b915"></div><div class="lg" style="left:219.8px;letter-spacing:-0.1px">Reward</div>
<div class="lg" style="left:308px">Total Locked</div>
<div class="foot">3 hours ago</div>
</body></html>
